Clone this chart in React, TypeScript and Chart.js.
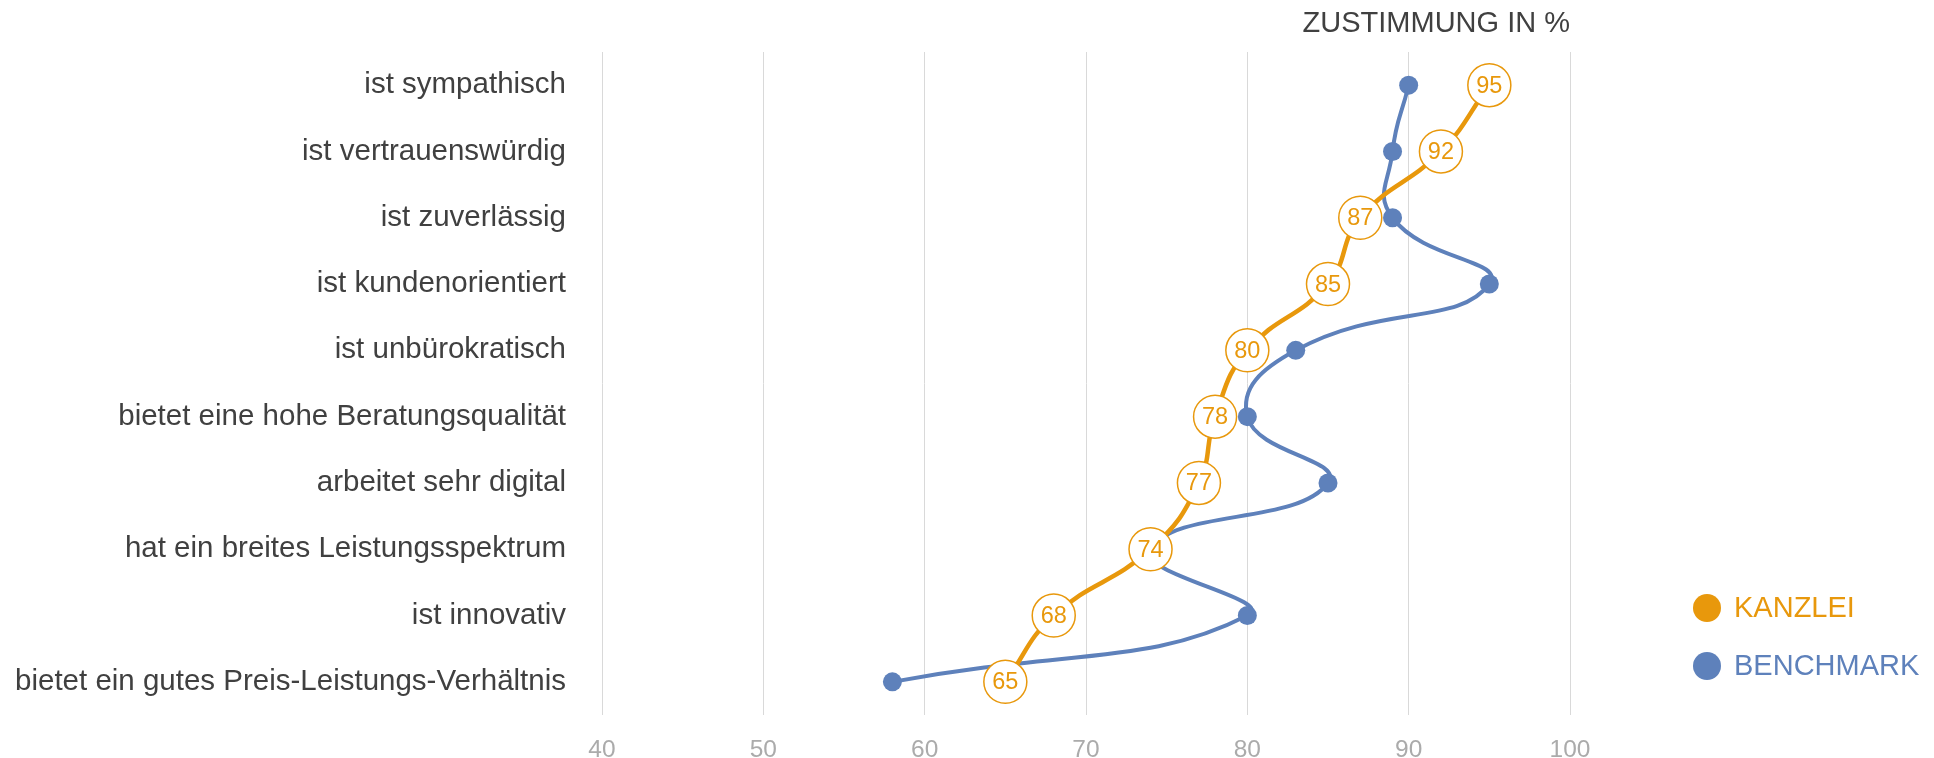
import React, { useEffect, useRef } from "react";
import { Chart, registerables } from "chart.js";

Chart.register(...registerables);

const categories: string[] = [
  "ist sympathisch",
  "ist vertrauenswürdig",
  "ist zuverlässig",
  "ist kundenorientiert",
  "ist unbürokratisch",
  "bietet eine hohe Beratungsqualität",
  "arbeitet sehr digital",
  "hat ein breites Leistungsspektrum",
  "ist innovativ",
  "bietet ein gutes Preis-Leistungs-Verhältnis",
];

const kanzleiValues: number[] = [95, 92, 87, 85, 80, 78, 77, 74, 68, 65];
const benchmarkValues: number[] = [90, 89, 89, 95, 83, 80, 85, 74, 80, 58];

const xTicks: number[] = [40, 50, 60, 70, 80, 90, 100];
const seriesNames: string[] = ["KANZLEI", "BENCHMARK"];
const titleText = "ZUSTIMMUNG IN %";

const ORANGE = "#E8980C";
const BLUE = "#5E81BB";
const TEXT = "#404040";
const FONT = "'Liberation Sans', Arial, sans-serif";

export default function App() {
  const canvasRef = useRef<HTMLCanvasElement | null>(null);

  useEffect(() => {
    document.body.style.margin = "0";
    const canvas = canvasRef.current;
    if (!canvas) return;

    const overlay = {
      id: "overlay",
      afterDatasetsDraw(chart: any) {
        const ctx = chart.ctx;
        const meta = chart.getDatasetMeta(0);
        ctx.save();
        ctx.fillStyle = ORANGE;
        ctx.font = `23.5px ${FONT}`;
        ctx.textAlign = "center";
        ctx.textBaseline = "middle";
        meta.data.forEach((pt: any, i: number) => {
          ctx.fillText(String(kanzleiValues[i]), pt.x, pt.y + 1);
        });
        ctx.restore();
      },
      afterDraw(chart: any) {
        const ctx = chart.ctx;
        const area = chart.chartArea;
        ctx.save();
        // title
        ctx.fillStyle = TEXT;
        ctx.font = `29px ${FONT}`;
        ctx.textAlign = "right";
        ctx.textBaseline = "middle";
        ctx.fillText(titleText, area.right, 24);
        // legend
        const colors = [ORANGE, BLUE];
        const lx = area.right + 137;
        const ys = [area.bottom - 107, area.bottom - 49];
        seriesNames.forEach((name, i) => {
          ctx.beginPath();
          ctx.fillStyle = colors[i];
          ctx.arc(lx, ys[i], 14, 0, Math.PI * 2);
          ctx.fill();
          ctx.textAlign = "left";
          ctx.fillText(name, lx + 27, ys[i] + 1);
        });
        ctx.restore();
      },
    };

    const chart = new Chart(canvas, {
      type: "line",
      data: {
        labels: categories,
        datasets: [
          {
            label: seriesNames[0],
            data: kanzleiValues,
            borderColor: ORANGE,
            borderWidth: 4.5,
            backgroundColor: "#ffffff",
            pointRadius: 21.5,
            pointHoverRadius: 21.5,
            pointBackgroundColor: "#ffffff",
            pointBorderColor: ORANGE,
            pointBorderWidth: 1.5,
            tension: 0.45,
            fill: false,
          },
          {
            label: seriesNames[1],
            data: benchmarkValues,
            borderColor: BLUE,
            borderWidth: 4,
            backgroundColor: BLUE,
            pointRadius: 9.5,
            pointHoverRadius: 9.5,
            pointBackgroundColor: BLUE,
            pointBorderColor: BLUE,
            pointBorderWidth: 0,
            tension: 0.5,
            fill: false,
          },
        ],
      },
      options: {
        indexAxis: "y",
        responsive: false,
        animation: false,
        events: [],
        layout: { padding: { left: 0, right: 364, top: 52, bottom: 0 } },
        plugins: {
          legend: { display: false },
          title: { display: false },
          tooltip: { enabled: false },
        },
        elements: { line: { capBezierPoints: false } },
        scales: {
          x: {
            type: "linear",
            min: xTicks[0],
            max: xTicks[xTicks.length - 1],
            afterBuildTicks(scale: any) {
              scale.ticks = xTicks.map((v) => ({ value: v }));
            },
            afterFit(scale: any) {
              scale.height = 43;
              scale.paddingLeft = 0;
              scale.paddingRight = 0;
            },
            grid: {
              color: "#d9d9d9",
              lineWidth: 1,
              drawTicks: false,
            },
            border: { display: false },
            ticks: {
              padding: 21,
              color: "#ababab",
              font: { family: FONT, size: 24.5 },
            },
          },
          y: {
            type: "category",
            offset: true,
            afterFit(scale: any) {
              scale.width = 602;
              scale.paddingTop = 0;
              scale.paddingBottom = 0;
            },
            grid: { display: false, drawTicks: false },
            border: { display: false },
            ticks: {
              padding: 36,
              color: TEXT,
              font: { family: FONT, size: 29.5 },
            },
          },
        },
      },
      plugins: [overlay],
    });

    return () => chart.destroy();
  }, []);

  return (
    <div style={{ width: 1934, height: 758, position: "relative" }}>
      <canvas ref={canvasRef} width={1934} height={758} style={{ display: "block", width: 1934, height: 758 }} />
    </div>
  );
}
